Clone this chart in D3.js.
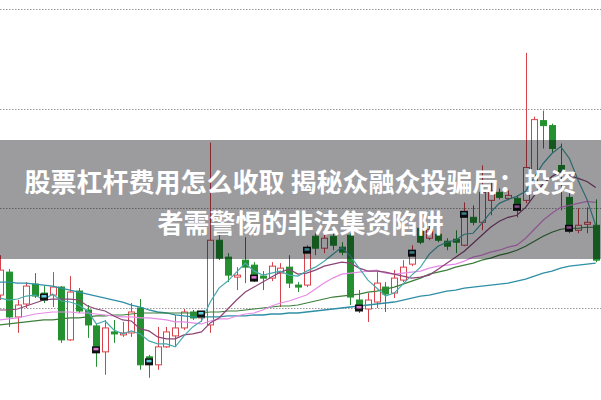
<!DOCTYPE html>
<html><head><meta charset="utf-8">
<script src="https://cdn.jsdelivr.net/npm/d3@7/dist/d3.min.js"></script>
<style>html,body{margin:0;padding:0;background:#fff;}svg{display:block;}</style>
</head><body>
<svg id="chart" width="601" height="400"></svg>
<script>
const openP = [5.13,5.36,4.91,5.04,5.24,5.15,5.13,5.21,4.68,5.17,
4.98,4.82,4.56,4.76,4.73,4.75,5.00,4.51,4.43,4.61,
4.72,4.80,4.96,4.90,4.83,5.68,5.51,5.31,5.48,5.43,
5.32,5.30,5.35,5.41,5.23,5.23,5.72,5.60,5.72,5.61,
5.73,5.08,4.99,5.06,5.21,5.15,5.28,5.44,5.80,5.70,
5.74,5.67,5.69,5.63,5.91,5.86,6.08,6.16,6.10,6.10,
6.08,6.16,6.88,6.83,6.43,6.11,5.78,5.84,5.83];
const closeP = [5.38,4.91,5.03,5.22,5.12,5.11,5.21,4.68,5.16,4.97,
4.83,4.58,4.80,4.74,4.75,4.96,4.43,4.46,4.61,4.76,
4.80,4.96,4.90,4.94,5.68,5.50,5.33,5.33,5.41,5.30,
5.30,5.42,5.40,5.25,5.21,5.58,5.60,5.70,5.63,5.56,
5.11,5.00,5.08,5.25,5.14,5.30,5.41,5.55,5.66,5.79,
5.68,5.62,5.66,5.94,5.86,6.16,6.18,6.11,6.13,6.01,
6.41,6.89,6.83,6.60,6.36,5.80,5.83,5.86,5.48];
const highP = [5.53,5.39,5.08,5.26,5.35,5.22,5.36,5.22,5.32,5.20,
5.03,4.84,4.88,4.88,4.86,5.05,5.09,4.53,4.81,4.81,
4.93,4.99,4.98,4.97,6.66,5.73,5.55,5.41,5.71,5.46,
5.37,5.46,5.45,5.53,5.26,5.63,5.76,5.75,5.76,5.66,
5.75,5.18,5.15,5.36,5.26,5.38,5.48,5.63,5.88,5.85,
5.80,5.70,5.78,6.06,6.03,6.43,6.28,6.20,6.18,6.13,
7.56,6.92,6.98,6.85,6.65,6.18,6.00,6.01,6.09];
const lowP = [5.08,4.81,4.75,5.00,5.10,5.05,5.01,4.65,4.67,4.95,
4.70,4.41,4.33,4.65,4.71,4.71,4.38,4.30,4.38,4.60,
4.61,4.78,4.88,4.86,4.75,5.48,5.26,5.18,5.25,5.26,
5.18,5.27,5.01,5.20,5.16,5.21,5.53,5.55,5.58,5.53,
5.03,4.95,4.86,5.00,4.96,5.10,5.26,5.42,5.64,5.68,
5.66,5.58,5.55,5.62,5.83,5.78,5.93,6.09,6.08,5.91,
6.05,6.15,6.60,6.56,5.98,5.75,5.75,5.75,5.46];
const ma5 = [5.10,5.08,5.09,5.12,5.13,5.08,5.14,5.07,5.06,5.03,
4.97,4.84,4.87,4.78,4.74,4.77,4.74,4.67,4.64,4.64,
4.61,4.72,4.81,4.87,5.06,5.20,5.27,5.36,5.45,5.37,
5.33,5.35,5.37,5.33,5.32,5.37,5.41,5.47,5.54,5.61,
5.52,5.40,5.28,5.20,5.12,5.15,5.24,5.33,5.41,5.54,
5.62,5.66,5.68,5.74,5.75,5.85,5.96,6.05,6.09,6.12,
6.17,6.31,6.45,6.55,6.62,6.50,6.28,6.09,5.83];
const ma10 = [4.98,4.98,4.99,5.02,5.05,5.08,5.09,5.09,5.09,5.08,
5.02,4.99,4.97,4.92,4.88,4.87,4.79,4.77,4.71,4.69,
4.69,4.73,4.74,4.76,4.85,4.90,4.99,5.08,5.16,5.21,
5.26,5.31,5.36,5.39,5.34,5.35,5.38,5.42,5.44,5.46,
5.45,5.40,5.37,5.37,5.36,5.34,5.32,5.30,5.31,5.33,
5.39,5.45,5.51,5.57,5.65,5.73,5.81,5.87,5.91,5.93,
6.01,6.13,6.25,6.32,6.37,6.33,6.30,6.27,6.21];
const ma20 = [4.88,4.89,4.90,4.92,4.94,4.95,4.96,4.96,4.96,4.95,
4.95,4.94,4.93,4.92,4.91,4.91,4.90,4.90,4.89,4.88,
4.86,4.86,4.85,4.84,4.87,4.89,4.89,4.92,4.94,4.95,
4.98,5.02,5.05,5.07,5.10,5.13,5.19,5.25,5.30,5.34,
5.35,5.36,5.37,5.38,5.35,5.34,5.35,5.36,5.37,5.40,
5.42,5.43,5.44,5.47,5.51,5.53,5.56,5.58,5.61,5.63,
5.70,5.79,5.88,5.95,6.01,6.03,6.05,6.07,6.06];
const ma30 = [4.83,4.84,4.85,4.86,4.87,4.88,4.88,4.89,4.90,4.90,
4.91,4.92,4.92,4.93,4.93,4.94,4.95,4.95,4.95,4.95,
4.95,4.95,4.95,4.95,4.96,4.96,4.97,4.97,4.98,4.99,
5.00,5.01,5.02,5.02,5.03,5.05,5.07,5.09,5.11,5.12,
5.13,5.14,5.16,5.17,5.19,5.21,5.24,5.27,5.30,5.34,
5.36,5.38,5.41,5.43,5.45,5.48,5.50,5.53,5.55,5.58,
5.62,5.67,5.72,5.76,5.79,5.80,5.80,5.81,5.81];
const ma60 = [5.26,5.26,5.25,5.25,5.24,5.23,5.22,5.20,5.18,5.16,
5.14,5.12,5.10,5.08,5.06,5.03,5.01,4.98,4.96,4.95,
4.93,4.92,4.91,4.91,4.91,4.91,4.92,4.92,4.92,4.93,
4.93,4.94,4.94,4.95,4.95,4.96,4.97,4.98,4.99,5.00,
5.01,5.02,5.03,5.04,5.05,5.06,5.08,5.10,5.12,5.13,
5.15,5.17,5.18,5.20,5.21,5.22,5.23,5.24,5.25,5.27,
5.29,5.32,5.35,5.37,5.40,5.42,5.43,5.44,5.45];
const markIdx = [5,11,17,23,29,35,41,47,53,59,65];
const markType = ["c","p","c","c","p","c","p","c","c","p","p"];
const gridTicks = [5,6,7,8];
const titleLines = ["股票杠杆费用怎么收取 揭秘众融众投骗局：投资","者需警惕的非法集资陷阱"];

const W = 601, H = 400;
const svg = d3.select("#chart");
const n = closeP.length;
const x = d3.scaleLinear().domain([0, n - 1]).range([0, 595.7]);
const y = d3.scaleLinear().domain([5, 8]).range([308, 9]);
const bw = 6;

svg.append("rect").attr("width", W).attr("height", H).attr("fill", "#fff");

// grid
svg.append("g").selectAll("line").data(gridTicks).join("line")
  .attr("x1", 0).attr("x2", W)
  .attr("y1", d => Math.round(y(d)) + 0.5).attr("y2", d => Math.round(y(d)) + 0.5)
  .attr("stroke", "#9a9a9a").attr("stroke-width", 1).attr("stroke-dasharray", "1.5,1.5");

const idx = d3.range(n);
const RED = "#d8434b", GREEN = "#23912f";
const up = i => closeP[i] >= openP[i];

// candles
const cg = svg.append("g");
cg.selectAll("line.wick").data(idx).join("line")
  .attr("x1", i => Math.round(x(i)) + 0.5).attr("x2", i => Math.round(x(i)) + 0.5)
  .attr("y1", i => y(highP[i])).attr("y2", i => y(lowP[i]))
  .attr("stroke", i => up(i) ? RED : GREEN).attr("stroke-width", 1);
cg.selectAll("rect.body").data(idx).join("rect")
  .attr("x", i => Math.round(x(i)) - bw / 2 + 0.5)
  .attr("y", i => y(Math.max(openP[i], closeP[i])))
  .attr("width", bw)
  .attr("height", i => Math.max(1, Math.abs(y(openP[i]) - y(closeP[i]))))
  .attr("fill", i => up(i) ? "#fff" : GREEN)
  .attr("stroke", i => up(i) ? RED : GREEN).attr("stroke-width", 1);

// moving averages
const line = arr => d3.line().x((d, i) => x(i)).y(d => y(d))(arr);
const maDefs = [
  {d: ma60, c: "#2f8fa6", w: 1.3},
  {d: ma30, c: "#3d7f3a", w: 1.2},
  {d: ma20, c: "#e68be6", w: 1.2},
  {d: ma10, c: "#8c4577", w: 1.2},
  {d: ma5, c: "#47a9ad", w: 1.2}
];
svg.append("g").selectAll("path").data(maDefs).join("path")
  .attr("d", m => line(m.d)).attr("fill", "none")
  .attr("stroke", m => m.c).attr("stroke-width", m => m.w);

// markers
const mg = svg.append("g");
markIdx.forEach((i, k) => {
  const cx = Math.round(x(i)), cy = y(closeP[i]);
  mg.append("rect").attr("x", cx - 4).attr("y", cy - 3.5).attr("width", 8).attr("height", 7).attr("fill", "#111");
  mg.append("rect").attr("x", cx - 2.5).attr("y", cy - 2).attr("width", 5).attr("height", 2.5)
    .attr("fill", markType[k] === "c" ? "#5fd0e0" : "#e07ad8");
});

// banner
svg.append("rect").attr("x", 0).attr("y", 140).attr("width", W).attr("height", 119)
  .attr("fill", "#000008").attr("fill-opacity", 0.39);
svg.append("g").selectAll("text").data(titleLines).join("text")
  .attr("x", 300.5).attr("y", (d, i) => 180 + i * 41)
  .attr("text-anchor", "middle").attr("dominant-baseline", "central")
  .attr("font-family", "'Noto Sans CJK SC', 'Noto Sans', sans-serif")
  .attr("font-weight", "bold").attr("font-size", 26).attr("fill", "#fff")
  .text(d => d);
</script>
</body></html>
